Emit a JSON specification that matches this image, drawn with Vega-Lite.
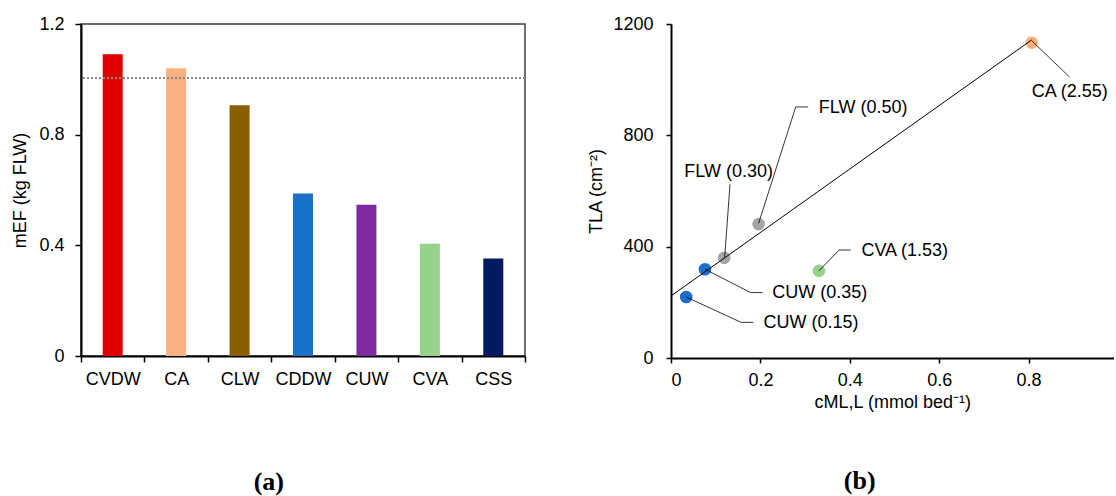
{
  "$schema": "https://vega.github.io/schema/vega-lite/v6.json",
  "padding": {"left": 11, "top": 14, "right": 0, "bottom": 0},
  "background": "white",
  "config": {
    "font": "Liberation Sans",
    "view": {"stroke": "#404040", "strokeWidth": 1.5},
    "axis": {
      "domainColor": "#000", "domainWidth": 2, "tickColor": "#000", "tickWidth": 1.5,
      "labelColor": "#000", "titleColor": "#000", "labelFontSize": 18, "titleFontSize": 18,
      "titleFontWeight": "normal", "grid": false, "labelFont": "Liberation Sans", "titleFont": "Liberation Sans"
    },
    "concat": {"spacing": 60}
  },
  "resolve": {"scale": {"color": "independent"}},
  "hconcat": [
    {
      "width": 444,
      "height": 332,
      "title": {"text": "(a)", "orient": "bottom", "frame": "bounds", "font": "Liberation Serif", "fontSize": 26, "fontWeight": "bold", "offset": 80, "color": "#000"},
      "data": {"values": [
        {"group": "CVDW", "value": 1.091},
        {"group": "CA", "value": 1.040},
        {"group": "CLW", "value": 0.906},
        {"group": "CDDW", "value": 0.587},
        {"group": "CUW", "value": 0.547},
        {"group": "CVA", "value": 0.406},
        {"group": "CSS", "value": 0.352}
      ]},
      "layer": [
        {
          "mark": {"type": "bar", "width": 20},
          "encoding": {
            "x": {"field": "group", "type": "nominal", "sort": null,
              "scale": {"paddingInner": 0, "paddingOuter": 0},
              "axis": {"title": null, "labelAngle": 0, "tickBand": "extent", "tickSize": 6, "labelPadding": 8.5}},
            "y": {"field": "value", "type": "quantitative", "scale": {"domain": [0, 1.2], "nice": false},
              "axis": {"values": [0, 0.4, 0.8, 1.2], "format": ".2~f", "title": "mEF (kg FLW)", "tickSize": 6, "labelPadding": 11, "titlePadding": 9}},
            "color": {"field": "group", "type": "nominal", "legend": null,
              "scale": {"domain": ["CVDW", "CA", "CLW", "CDDW", "CUW", "CVA", "CSS"],
                "range": ["#E00000", "#FBB07F", "#8B5E00", "#1A72C8", "#7E2BA0", "#97D28A", "#021A60"]}}
          }
        },
        {
          "mark": {"type": "rule", "color": "#8a8a8a", "strokeDash": [2, 2], "strokeWidth": 1},
          "encoding": {"y": {"datum": 1.005}}
        }
      ]
    },
    {
      "width": 442.5,
      "height": 334,
      "view": {"stroke": null},
      "title": {"text": "(b)", "orient": "bottom", "frame": "bounds", "font": "Liberation Serif", "fontSize": 26, "fontWeight": "bold", "offset": 56, "dx": 9, "color": "#000"},
      "layer": [
        {
          "mark": {"type": "rule", "color": "#404040", "strokeWidth": 1.5},
          "encoding": {"y": {"datum": 1200, "type": "quantitative"}}
        },
        {
          "data": {"values": [
            {"label": "CA (2.55)", "grp": "CA", "c": 0.807, "tla": 1133},
            {"label": "FLW (0.50)", "grp": "FLW", "c": 0.196, "tla": 481},
            {"label": "FLW (0.30)", "grp": "FLW", "c": 0.119, "tla": 360},
            {"label": "CUW (0.35)", "grp": "CUW", "c": 0.076, "tla": 319},
            {"label": "CUW (0.15)", "grp": "CUW", "c": 0.034, "tla": 219},
            {"label": "CVA (1.53)", "grp": "CVA", "c": 0.331, "tla": 313}
          ]},
          "mark": {"type": "circle", "size": 160, "opacity": 1},
          "encoding": {
            "x": {"field": "c", "type": "quantitative", "scale": {"domain": [0, 0.99], "nice": false},
              "axis": {"values": [0, 0.2, 0.4, 0.6, 0.8], "format": ".2~f", "title": "cML,L (mmol bed⁻¹)", "tickSize": 5, "labelPadding": 8.5, "titlePadding": 4}},
            "y": {"field": "tla", "type": "quantitative", "scale": {"domain": [0, 1200], "nice": false},
              "axis": {"values": [0, 400, 800, 1200], "format": "d", "title": "TLA (cm⁻²)", "tickSize": 5, "labelPadding": 13, "titlePadding": 7}},
            "color": {"field": "grp", "type": "nominal", "legend": null,
              "scale": {"domain": ["CA", "FLW", "CUW", "CVA"], "range": ["#F9B07E", "#A5A5A5", "#1C6FC8", "#97D28A"]}}
          }
        },
        {
          "data": {"values": [
            {"c": 0.0, "tla": 223},
            {"c": 0.807, "tla": 1143}
          ]},
          "mark": {"type": "line", "color": "#000", "strokeWidth": 1},
          "encoding": {
            "x": {"field": "c", "type": "quantitative"},
            "y": {"field": "tla", "type": "quantitative"}
          }
        },
        {
          "data": {"values": [
            {"id": "CA", "ord": 1, "c": 0.807, "tla": 1140},
            {"id": "CA", "ord": 2, "c": 0.892, "tla": 1009},
            {"id": "FLW50", "ord": 1, "c": 0.196, "tla": 484},
            {"id": "FLW50", "ord": 2, "c": 0.279, "tla": 902},
            {"id": "FLW50", "ord": 3, "c": 0.307, "tla": 902},
            {"id": "FLW30", "ord": 1, "c": 0.120, "tla": 359},
            {"id": "FLW30", "ord": 2, "c": 0.132, "tla": 624},
            {"id": "CUW35", "ord": 1, "c": 0.076, "tla": 319},
            {"id": "CUW35", "ord": 2, "c": 0.178, "tla": 235},
            {"id": "CUW35", "ord": 3, "c": 0.205, "tla": 235},
            {"id": "CUW15", "ord": 1, "c": 0.034, "tla": 219},
            {"id": "CUW15", "ord": 2, "c": 0.157, "tla": 128},
            {"id": "CUW15", "ord": 3, "c": 0.184, "tla": 128},
            {"id": "CVA", "ord": 1, "c": 0.331, "tla": 313},
            {"id": "CVA", "ord": 2, "c": 0.376, "tla": 388},
            {"id": "CVA", "ord": 3, "c": 0.402, "tla": 388}
          ]},
          "mark": {"type": "line", "color": "#000", "strokeWidth": 0.8},
          "encoding": {
            "x": {"field": "c", "type": "quantitative"},
            "y": {"field": "tla", "type": "quantitative"},
            "detail": {"field": "id", "type": "nominal"},
            "order": {"field": "ord", "type": "quantitative"}
          }
        },
        {
          "data": {"values": [
            {"label": "CA (2.55)", "c": 0.892, "tla": 954},
            {"label": "FLW (0.50)", "c": 0.430, "tla": 900},
            {"label": "FLW (0.30)", "c": 0.129, "tla": 669},
            {"label": "CUW (0.35)", "c": 0.333, "tla": 232},
            {"label": "CUW (0.15)", "c": 0.313, "tla": 125},
            {"label": "CVA (1.53)", "c": 0.523, "tla": 383}
          ]},
          "mark": {"type": "text", "fontSize": 18, "font": "Liberation Sans", "color": "#000", "align": "center", "baseline": "middle"},
          "encoding": {
            "x": {"field": "c", "type": "quantitative"},
            "y": {"field": "tla", "type": "quantitative"},
            "text": {"field": "label"}
          }
        }
      ]
    }
  ]
}
